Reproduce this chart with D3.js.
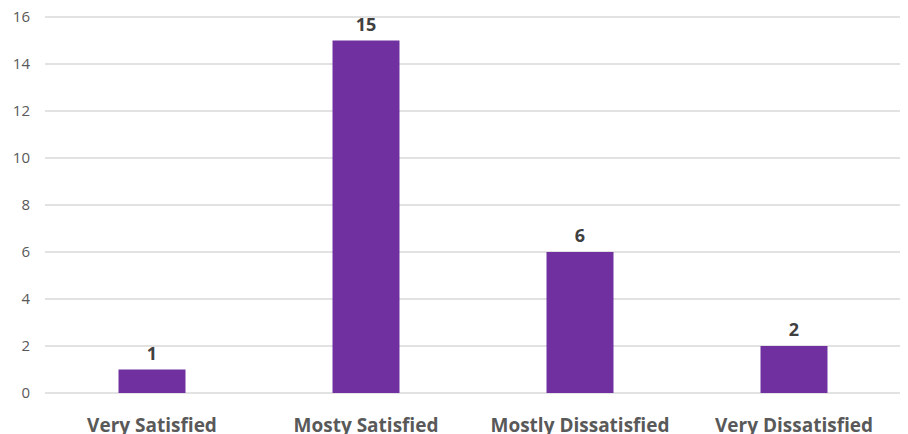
<!DOCTYPE html>
<html>
<head>
<meta charset="utf-8">
<script src="https://cdn.jsdelivr.net/npm/d3@7"></script>
<style>
  html, body { margin: 0; padding: 0; background: #fff; }
  svg { display: block; }
</style>
</head>
<body>
<svg id="chart" width="908" height="434"></svg>
<script>
// Survey responses by satisfaction level
const categories = ["Very Satisfied", "Mosty Satisfied", "Mostly Dissatisfied", "Very Dissatisfied"];
const counts = [1, 15, 6, 2];
const yTicks = [0, 2, 4, 6, 8, 10, 12, 14, 16];

const svg = d3.select("#chart");
const plotLeft = 45, plotRight = 901, plotTop = 17, plotBottom = 393;

const x = d3.scaleBand()
  .domain(categories)
  .range([plotLeft, plotRight])
  .paddingInner(0.687)
  .paddingOuter(0.687 / 2);

const y = d3.scaleLinear().domain([0, 16]).range([plotBottom, plotTop]);

// Horizontal gridlines
svg.append("g")
  .selectAll("line")
  .data(yTicks)
  .join("line")
  .attr("x1", plotLeft)
  .attr("x2", 900)
  .attr("y1", d => y(d))
  .attr("y2", d => y(d))
  .attr("stroke", "#d9d9d9")
  .attr("stroke-width", 1.3);

// Y axis labels
const yAxis = d3.axisLeft(y).tickValues(yTicks).tickSize(0).tickPadding(0);
const gy = svg.append("g")
  .attr("transform", "translate(30,0)")
  .call(yAxis);
gy.select(".domain").remove();
gy.selectAll("text")
  .attr("font-family", "'Open Sans', sans-serif")
  .attr("font-size", 15)
  .attr("fill", "#595959");

// Bars
svg.append("g")
  .selectAll("rect")
  .data(categories)
  .join("rect")
  .attr("x", d => x(d))
  .attr("width", x.bandwidth())
  .attr("y", (d, i) => y(counts[i]))
  .attr("height", (d, i) => y(0) - y(counts[i]))
  .attr("fill", "#7030a0");

// Value labels
svg.append("g")
  .selectAll("text")
  .data(categories)
  .join("text")
  .attr("x", d => x(d) + x.bandwidth() / 2)
  .attr("y", (d, i) => y(counts[i]) - 10)
  .attr("text-anchor", "middle")
  .attr("font-family", "'Open Sans', sans-serif")
  .attr("font-weight", "bold")
  .attr("font-size", 18)
  .attr("fill", "#404040")
  .text((d, i) => counts[i]);

// Category labels
const xAxis = d3.axisBottom(x).tickSize(0).tickPadding(0);
const gx = svg.append("g")
  .attr("transform", `translate(0,${plotBottom})`)
  .call(xAxis);
gx.select(".domain").remove();
gx.selectAll("text")
  .attr("dy", null)
  .attr("y", 39)
  .attr("font-family", "'Open Sans', sans-serif")
  .attr("font-weight", "bold")
  .attr("font-size", 19)
  .attr("fill", "#595959");
</script>
</body>
</html>
